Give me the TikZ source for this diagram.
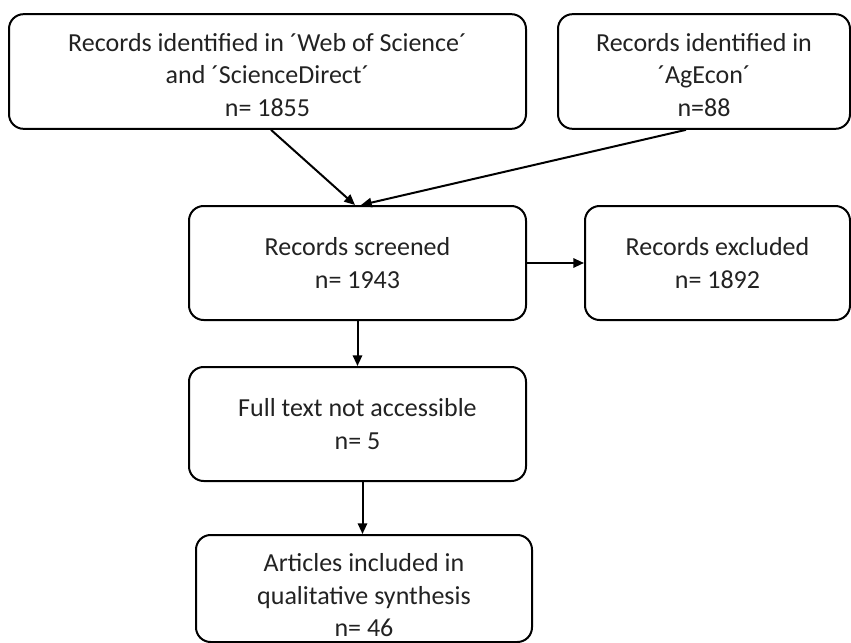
\documentclass[tikz,border=0pt]{standalone}
\usepackage{fontspec}
\setmainfont{Carlito}
\usepackage{tikz}
\usetikzlibrary{arrows.meta,calc}
\definecolor{boxline}{HTML}{000000}
\definecolor{boxtext}{HTML}{222222}
\tikzset{
  blk/.style     = {draw=boxline,line width=1.5pt,rounded corners=11pt,
                     minimum height=86pt,align=center,text=boxtext,
                     font=\fontsize{19.5}{24.4}\selectfont},
  sig/.style     = {-{Triangle[length=8pt,width=7pt]},line width=1.5pt},
}
\newcommand{\toppad}[1]{\rule{0pt}{#1}}

\begin{document}
\begin{tikzpicture}[x=0.75pt,y=-0.75pt]
  \useasboundingbox (0,0) rectangle (851,643);
  \node[blk,minimum width=387.75pt] (wos) at (267.5,71.5)
    {\toppad{18.5pt}Records identified in ´Web of Science´\\ and ´ScienceDirect´\\ n= 1855};
  \node[blk,minimum width=219pt] (agecon) at (704,71.5)
    {\toppad{18.5pt}Records identified in\\ ´AgEcon´\\ n=88};
  \node[blk,minimum width=252.75pt,minimum height=85.5pt] (screened) at (357.5,263)
    {Records screened\\ n= 1943};
  \node[blk,minimum width=198.75pt,minimum height=85.5pt] (excluded) at (717.5,263)
    {Records excluded\\ n= 1892};
  \node[blk,minimum width=252.75pt,minimum height=85.5pt] (fulltext) at (357.5,424)
    {Full text not accessible\\ n= 5};
  \node[blk,minimum width=252pt,minimum height=80.25pt] (included) at (364,588.5)
    {\toppad{24pt}Articles included in\\ qualitative synthesis\\ n= 46};

  \draw[sig] ($(wos.south)+(3.5,0)$) -- ($(screened.north)+(-2.5,0)$);
  \draw[sig] ($(agecon.south)+(-18,0)$) -- ($(screened.north)+(3.5,0)$);
  \draw[sig] (screened.east) -- (excluded.west);
  \draw[sig] (screened.south) -- (fulltext.north);
  \draw[sig] ($(fulltext.south)+(5,0)$) -- ($(included.north)+(-1.5,0)$);
\end{tikzpicture}
\end{document}
